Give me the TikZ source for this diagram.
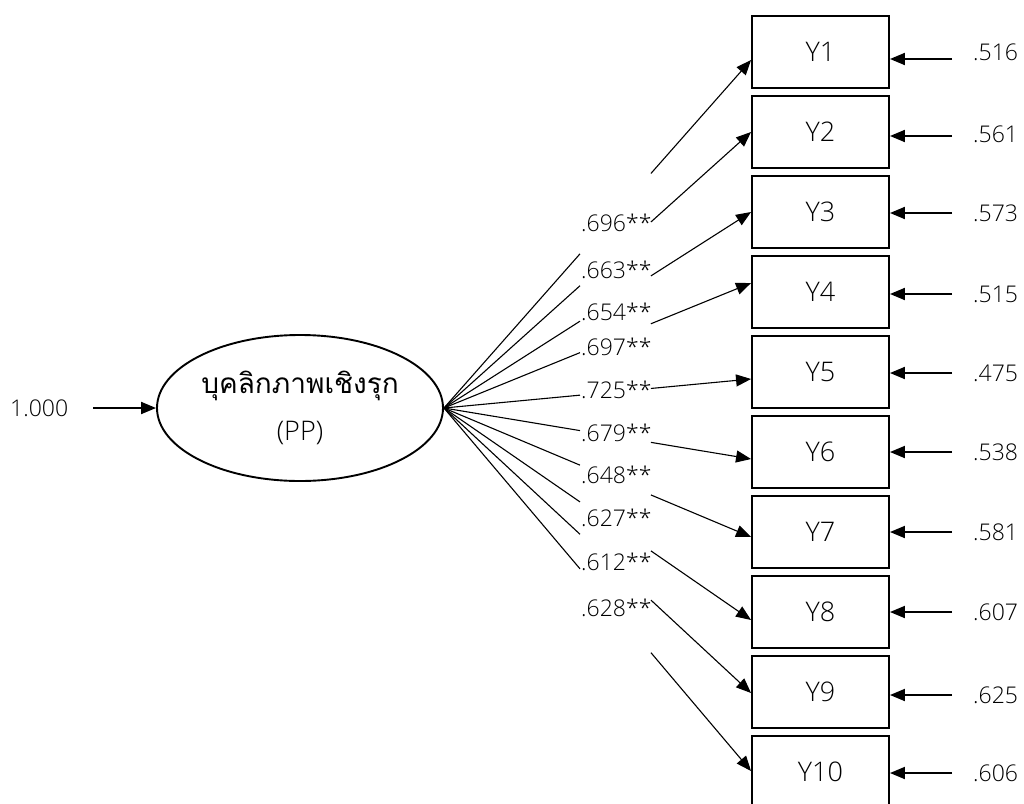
\documentclass[tikz,border=0pt]{standalone}
\usepackage{fontspec}
\setmainfont{Open Sans}[UprightFont={* Light}]
\newfontfamily\thaifont[Script=Thai]{Loma}
\usetikzlibrary{calc,arrows.meta,shapes.geometric}

\begin{document}
\begin{tikzpicture}[x=1pt,y=-1pt,
  tip/.style={-{Triangle[length=15pt,width=12pt]}},
  link/.style={line width=1.1pt},
  heavy/.style={line width=1.9pt},
  obs/.style={draw,line width=1.9pt,minimum width=137pt,minimum height=72pt,
    inner sep=0pt,font=\fontsize{27}{30}\selectfont},
  latent/.style={draw,ellipse,line width=1.9pt,minimum width=286pt,
    minimum height=146pt,inner sep=0pt,align=center,
    font=\fontsize{27}{47}\selectfont},
  num/.style={inner sep=0pt,font=\fontsize{23}{26}\selectfont},
]
\useasboundingbox (0,0) rectangle (1024,803);

% latent factor and its variance
\node[latent] (PP) at (300,408) {{\thaifont\fontsize{28}{47}\selectfont บุคลิกภาพเชิงรุก}\\(PP)};
\node[num,anchor=west] (var) at (10,408) {1.000};
\coordinate (s0) at (93,408);
\draw[heavy,tip] (s0) -- (PP.west);

% indicators with their error variances
\foreach \i in {1,...,10}
  \node[obs] (Y\i) at (820.5,{52+80*(\i-1)}) {Y\i};

\foreach \i/\val/\ty/\ay in {1/.516/52/59, 2/.561/134/136, 3/.573/213/213,
    4/.515/294/294, 5/.475/373/373, 6/.538/452/452, 7/.581/532/532,
    8/.607/612/612, 9/.625/695/695, 10/.606/773/773} {
  \node[num,anchor=west] (e\i) at (973,\ty) {\val};
  \coordinate (s\i) at (952,\ay);
  \draw[heavy,tip] (s\i) -- (Y\i.east |- s\i);
}

% loadings: each path is interrupted where the coefficients are printed
\foreach \i/\dy in {1/8,2/0,3/0,4/-9,5/7,6/7,7/5,8/8,9/1,10/-1} {
  \coordinate (t\i) at ($(Y\i.west)+(0,\dy)$);
  \draw[link] (PP.east) -- ($(PP.east)!0.443!(t\i)$);
  \draw[link,tip] ($(PP.east)!0.674!(t\i)$) -- (t\i);
}

\foreach \i/\val/\y in {1/.696**/223, 2/.663**/270, 3/.654**/312,
    4/.697**/347, 5/.725**/390, 6/.679**/433, 7/.648**/475,
    8/.627**/518, 9/.612**/562, 10/.628**/608}
  \node[num,anchor=west] (l\i) at (581,\y) {\val};
\end{tikzpicture}
\end{document}
